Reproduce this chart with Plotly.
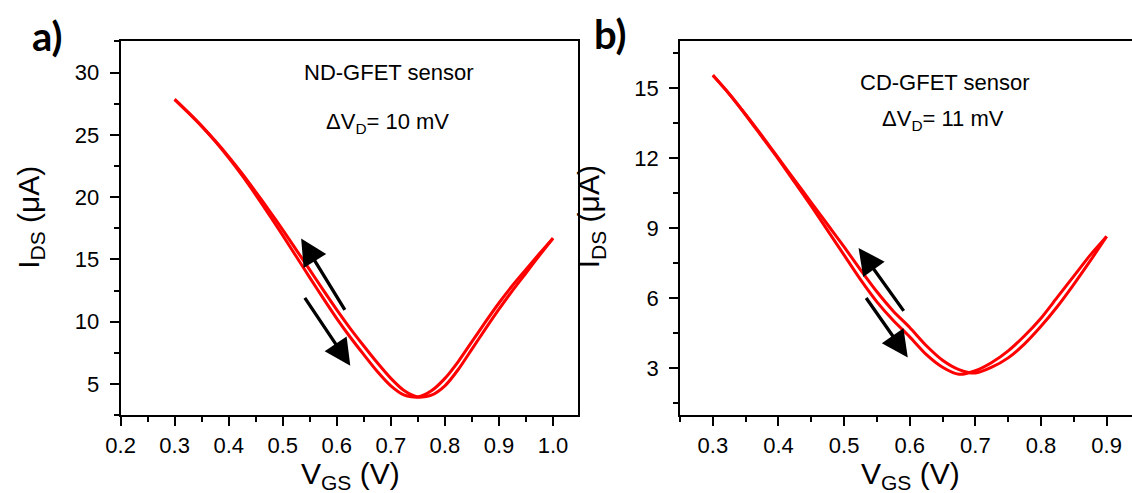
import plotly.graph_objects as go

# ---------------- data ----------------
vgs_a = [0.300, 0.325, 0.350, 0.375, 0.400, 0.425, 0.450, 0.475, 0.500, 0.525,
         0.550, 0.575, 0.600, 0.625, 0.650, 0.675, 0.700, 0.725, 0.750, 0.775,
         0.800, 0.825, 0.850, 0.875, 0.900, 0.925, 0.950, 0.975, 1.000]
ids_a_fwd = [27.85, 26.8, 25.7, 24.52, 23.25, 21.88, 20.42, 18.92, 17.37, 15.77,
             14.16, 12.53, 10.95, 9.45, 8.05, 6.7, 5.45, 4.45, 3.95, 4.1,
             4.85, 6.18, 7.8, 9.42, 11.0, 12.5, 13.91, 15.33, 16.7]
ids_a_rev = [27.85, 26.8, 25.7, 24.48, 23.15, 21.72, 20.18, 18.58, 16.93, 15.23,
             13.54, 11.87, 10.25, 8.75, 7.35, 6.0, 4.85, 4.1, 3.95, 4.45,
             5.45, 6.82, 8.4, 9.98, 11.5, 12.9, 14.19, 15.47, 16.7]

vgs_b = [0.300, 0.325, 0.350, 0.375, 0.400, 0.425, 0.450, 0.475, 0.500, 0.525,
         0.550, 0.575, 0.600, 0.625, 0.650, 0.675, 0.700, 0.725, 0.750, 0.775,
         0.800, 0.825, 0.850, 0.875, 0.900]
ids_b_fwd = [15.55, 14.75, 13.87, 12.95, 12.0, 11.05, 10.1, 9.15, 8.2, 7.22,
             6.28, 5.45, 4.75, 3.98, 3.35, 2.95, 2.8, 3.05, 3.45, 4.05,
             4.8, 5.65, 6.6, 7.6, 8.65]
ids_b_rev = [15.55, 14.75, 13.85, 12.9, 11.95, 10.95, 9.95, 8.9, 7.85, 6.8,
             5.85, 5.05, 4.35, 3.6, 3.05, 2.75, 2.9, 3.25, 3.75, 4.4,
             5.15, 6.05, 6.95, 7.85, 8.65]

xticks_a = [0.2, 0.3, 0.4, 0.5, 0.6, 0.7, 0.8, 0.9, 1.0]
xticks_b = [0.3, 0.4, 0.5, 0.6, 0.7, 0.8, 0.9]
yticks_a = [5, 10, 15, 20, 25, 30]
yticks_b = [3, 6, 9, 12, 15]

label_a = "ND-GFET sensor"
label_b = "CD-GFET sensor"
shift_a = "ΔV<sub>D</sub>= 10 mV"
shift_b = "ΔV<sub>D</sub>= 11 mV"

# ---------------- figure ----------------
W, H = 1132, 493
RED = "#ff0000"
FONT = "Liberation Sans, Arial, sans-serif"

fig = go.Figure()
for xs, ys, xa, ya in [(vgs_a, ids_a_fwd, "x", "y"), (vgs_a, ids_a_rev, "x", "y"),
                       (vgs_b, ids_b_fwd, "x2", "y2"), (vgs_b, ids_b_rev, "x2", "y2")]:
    fig.add_trace(go.Scatter(x=xs, y=ys, mode="lines", xaxis=xa, yaxis=ya,
                             line=dict(color=RED, width=3, shape="spline", smoothing=0.7),
                             showlegend=False, hoverinfo="skip"))

def axis_style(**kw):
    d = dict(showline=True, linecolor="black", linewidth=2, ticks="outside",
             ticklen=9, tickwidth=2, tickcolor="black", showgrid=False,
             zeroline=False, tickfont=dict(family=FONT, size=22, color="black"))
    d.update(kw)
    return d

minor_x = dict(dtick=0.05, ticklen=5, tickwidth=2, ticks="outside", tickcolor="black", showgrid=False)

ydom = [0.158, 0.916]
fig.update_layout(
    width=W, height=H, autosize=False,
    margin=dict(l=0, r=0, t=0, b=0),
    paper_bgcolor="white", plot_bgcolor="white",
    xaxis=axis_style(domain=[107 / W, 571 / W], range=[0.2, 1.047], anchor="y",
                     tickvals=xticks_a, ticktext=[f"{v:.1f}" for v in xticks_a],
                     mirror=True, minor=dict(minor_x, tick0=0.2)),
    yaxis=axis_style(domain=ydom, range=[2.5, 32.5], anchor="x",
                     tickvals=yticks_a, mirror=True, ticklabelstandoff=6,
                     minor=dict(dtick=2.5, tick0=0, ticklen=5, tickwidth=2, ticks="outside",
                                tickcolor="black", showgrid=False)),
    xaxis2=axis_style(domain=[674 / W, 1.0], range=[0.25, 0.9387], anchor="y2",
                      tickvals=xticks_b, ticktext=[f"{v:.1f}" for v in xticks_b],
                      mirror=True, minor=dict(minor_x, tick0=0.25)),
    yaxis2=axis_style(domain=ydom, range=[1, 17], anchor="x2",
                      tickvals=yticks_b, mirror=False, ticklabelstandoff=6,
                      minor=dict(dtick=1.5, tick0=0, ticklen=5, tickwidth=2, ticks="outside",
                                 tickcolor="black", showgrid=False)),
)

def px(x):
    return x / W

def py(y):
    return 1 - y / H

def txt(text, x, y, size, family=FONT, angle=0, xanchor="center", yanchor="middle"):
    return dict(text=text, x=px(x), y=py(y), xref="paper", yref="paper", showarrow=False,
                xanchor=xanchor, yanchor=yanchor, textangle=angle,
                font=dict(family=family, size=size, color="black"))

ann = []
# panel letters
ann.append(txt("<b>a)</b>", 33, 36, 40, family="Lato, Open Sans, sans-serif"))
ann.append(txt("<b>b)</b>", 604, 34, 40, family="Lato, Open Sans, sans-serif"))
# in-plot labels
ann.append(txt(label_a, 379, 72, 22))
ann.append(txt(shift_a, 377, 123, 22))
ann.append(txt(label_b, 942, 83, 22))
ann.append(txt(shift_b, 940, 120, 22))
# axis titles
for x in (340, 908):
    ann.append(txt("V<sub>GS</sub> (V)", x, 496, 30, yanchor="bottom"))
for x in (16, 584):
    ann.append(txt("I<sub>DS</sub> (μA)", x, 217, 30, angle=-90))
# sweep arrows (tip, tail) in data coordinates
arrows = [("x", "y", 0.534, 16.68, 0.6166, 10.82), ("x", "y", 0.625, 6.46, 0.539, 12.03),
          ("x2", "y2", 0.522, 8.16, 0.5924, 5.40), ("x2", "y2", 0.597, 3.47, 0.532, 6.08)]
for xr, yr, x, y, ax, ay in arrows:
    ann.append(dict(x=x, y=y, ax=ax, ay=ay, xref=xr, yref=yr, axref=xr, ayref=yr,
                    showarrow=True, arrowhead=2, arrowsize=1.6, arrowwidth=3.3,
                    arrowcolor="black", text="", standoff=0, startstandoff=0))
fig.update_layout(annotations=ann)

fig.write_html("out.html")
